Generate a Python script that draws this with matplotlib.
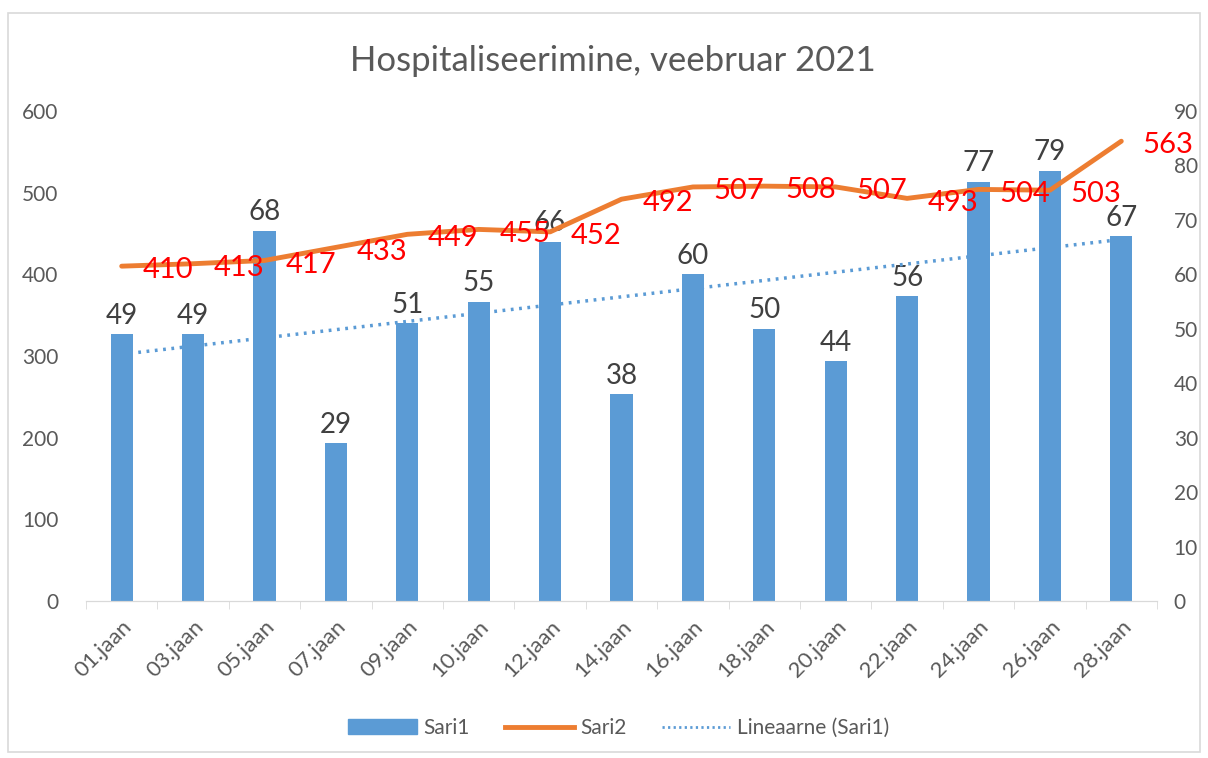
import matplotlib
matplotlib.use("Agg")
import matplotlib.pyplot as plt
import numpy as np
from matplotlib.patches import Rectangle
from matplotlib.lines import Line2D

# data
days = ["01.jaan", "03.jaan", "05.jaan", "07.jaan", "09.jaan", "10.jaan", "12.jaan",
        "14.jaan", "16.jaan", "18.jaan", "20.jaan", "22.jaan", "24.jaan", "26.jaan", "28.jaan"]
sari1 = [49, 49, 68, 29, 51, 55, 66, 38, 60, 50, 44, 56, 77, 79, 67]
sari2 = [410, 413, 417, 433, 449, 455, 452, 492, 507, 508, 507, 493, 504, 503, 563]

plt.rcParams['font.family'] = ['Lato', 'DejaVu Sans']
grey = '#595959'
blue = '#5B9BD5'
orange = '#ED7D31'

fig = plt.figure(figsize=(12.08, 7.58), dpi=100)
# chart border
fig.patches.append(Rectangle((8 / 1208, 1 - 752 / 758), 1192 / 1208, 739 / 758,
                             transform=fig.transFigure, fill=False,
                             edgecolor='#D9D9D9', lw=1.2))

ax2 = fig.add_axes([86 / 1208, 1 - 601 / 758, (1157 - 86) / 1208, 490 / 758])
ax = ax2.twinx()  # line axis on top
ax.yaxis.tick_left()
ax2.yaxis.tick_right()

x = np.arange(len(days))

# bars on right axis
ax2.bar(x, sari1, width=0.31, color=blue, zorder=2)
for xi, v in zip(x, sari1):
    ax2.annotate(str(v), (xi, v), xytext=(0, 4), textcoords='offset points',
                 ha='center', va='bottom', fontsize=20, color='#404040')

# linear trend
k, b = np.polyfit(x, sari1, 1)
ax2.plot(x, k * x + b, color=blue, lw=2.5, ls=(0, (0.8, 1.6)), zorder=3)

ax2.set_ylim(0, 90)
ax2.set_yticks(range(0, 91, 10))

# line on left axis
ax.plot(x, sari2, color=orange, lw=3.5, solid_capstyle='round', zorder=4)
for xi, v in zip(x, sari2):
    ax.annotate(str(v), (xi, v), xytext=(15, -3), textcoords='offset points',
                ha='left', va='center', fontsize=21, color='#FF0000', zorder=5)
ax.set_ylim(0, 600)
ax.set_yticks(range(0, 601, 100))
ax.set_xlim(-0.5, len(days) - 0.5)

for a in (ax, ax2):
    for s in ('top', 'left', 'right'):
        a.spines[s].set_visible(False)
    a.spines['bottom'].set_color('#D9D9D9')
    a.tick_params(axis='y', length=0, labelsize=15, labelcolor=grey)
ax.tick_params(axis='y', pad=20)
ax2.tick_params(axis='y', pad=12)
ax.patch.set_visible(False)

ax2.set_xticks(x)
ax2.set_xticklabels(days, rotation=45, ha='right', va='top', rotation_mode='anchor',
                    fontsize=16, color=grey)
ax2.tick_params(axis='x', length=0, pad=11)
ax2.set_xticks(np.arange(-0.5, len(days)), minor=True)
ax2.tick_params(axis='x', which='minor', length=6, color='#D9D9D9')

fig.suptitle("Hospitaliseerimine, veebruar 2021", x=0.507, y=0.94,
             fontsize=25, color=grey)

handles = [Rectangle((0, 0), 1, 1, color=blue),
           Line2D([], [], color=orange, lw=3.5),
           Line2D([], [], color=blue, lw=2, ls=(0, (0.8, 1.2)))]
fig.legend(handles, ["Sari1", "Sari2", "Lineaarne (Sari1)"], loc='center',
           bbox_to_anchor=(0.512, 1 - 728 / 758), ncol=3, frameon=False,
           fontsize=15, labelcolor=grey, handlelength=3.3, columnspacing=1.7,
           handletextpad=0.3)

fig.savefig("out.png", dpi=100)
